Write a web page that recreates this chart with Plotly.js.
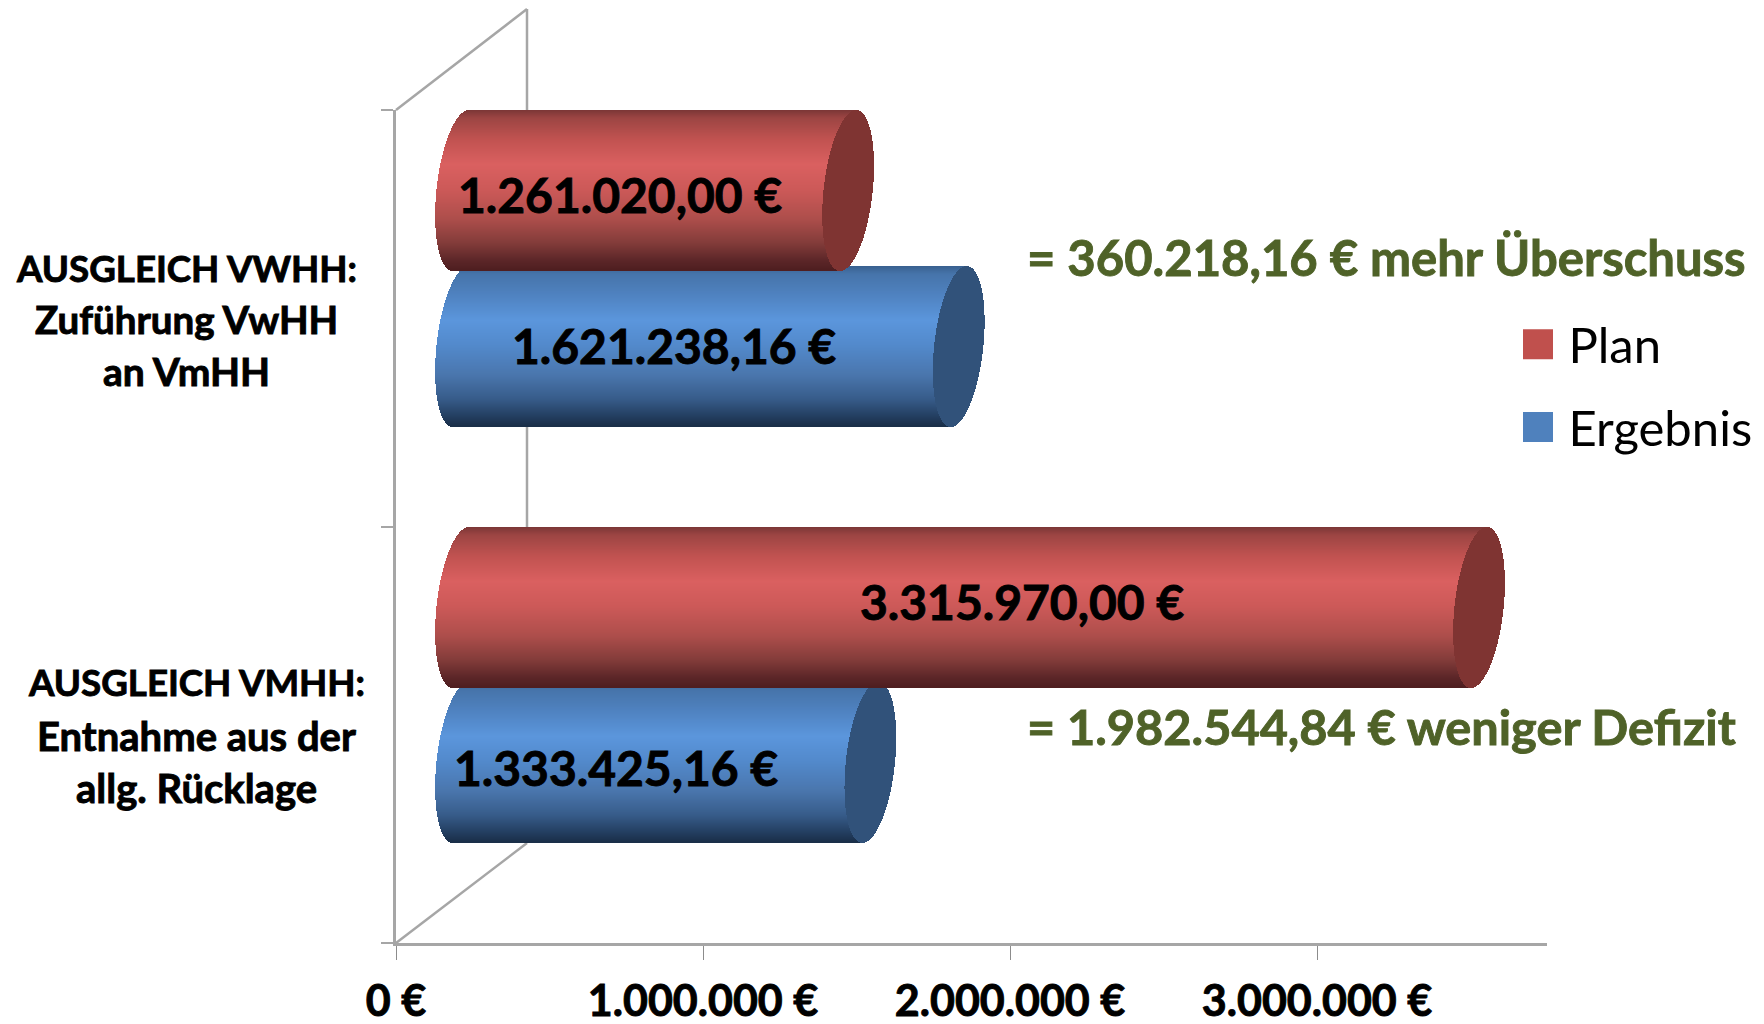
<!DOCTYPE html>
<html><head><meta charset="utf-8">
<script src="https://cdn.plot.ly/plotly-3.0.1.min.js"></script>
<style>html,body{margin:0;padding:0;background:#fff;overflow:hidden}#c{width:1764px;height:1024px}</style>
</head><body><div id="c"></div>
<script>
// ---- data ----
const seriesNames = ['Plan', 'Ergebnis'];
const planValues = [1261020.00, 3315970.00];
const ergebnisValues = [1621238.16, 1333425.16];
const planLabels = ['1.261.020,00 €', '3.315.970,00 €'];
const ergebnisLabels = ['1.621.238,16 €', '1.333.425,16 €'];
const categoryLines = [
  ['AUSGLEICH VWHH:', 'Zuführung VwHH', 'an VmHH'],
  ['AUSGLEICH VMHH:', 'Entnahme aus der', 'allg. Rücklage']
];
const xTickValues = [0, 1000000, 2000000, 3000000];
const xTickLabels = ['0 €', '1.000.000 €', '2.000.000 €', '3.000.000 €'];
const notes = ['= 360.218,16 € mehr Überschuss', '= 1.982.544,84 € weniger Defizit'];

// ---- plot geometry (page pixels) ----
const W = 1764, H = 1024, L = 396, R = 1547, T = 110, B = 943;
const pxPerUnit = 307 / 1e6, slotPx = (B - T) / 2;
const xRange = [0, (R - L) / pxPerUnit];
const dx = px => px / pxPerUnit;               // pixel length -> x units
const X = px => (px - L) / pxPerUnit;          // pixel -> x value
const Y = px => (px - T) / slotPx;             // pixel -> y value
const PX = px => (px - L) / (R - L);           // pixel -> paper
const PY = py => (B - py) / (B - T);

const BAR_H = 160, START = 461, RX = 24.6, SHEAR = 8;
const planTop = [T + 0.7, 527.3], ergebnisTop = [266.7, 683];

const planStops = [[0,'#7b3636'],[.05,'#9c4543'],[.18,'#c05250'],[.34,'#da6060'],[.5,'#cc5958'],[.68,'#ad4e4b'],[.83,'#833c3a'],[.94,'#5c2628'],[1,'#4e1e20']];
const ergStops  = [[0,'#38608f'],[.05,'#4674aa'],[.18,'#4f82c0'],[.34,'#5b96dc'],[.5,'#5289cb'],[.68,'#4a76ad'],[.83,'#375c8a'],[.94,'#233e60'],[1,'#1a2e48']];
const capColors = {Plan: '#7f3432', Ergebnis: '#31527a'};

function hex(c){return [1,3,5].map(i=>parseInt(c.substr(i,2),16));}
function shade(stops,t){
  for(let i=1;i<stops.length;i++){
    if(t<=stops[i][0]){
      const a=stops[i-1],b=stops[i],f=(t-a[0])/(b[0]-a[0]);
      const ca=hex(a[1]),cb=hex(b[1]);
      return 'rgb('+ca.map((v,k)=>Math.round(v+(cb[k]-v)*f)).join(',')+')';
    }
  }
  return stops[stops.length-1][1];
}
// Cylinders: each bar is split into one-pixel rows so the shading and the round ends are drawn by the bar trace itself
function cylinder(name, values, tops, stops){
  const body={type:'bar',orientation:'h',name,showlegend:false,hoverinfo:'skip',x:[],y:[],base:[],width:[],marker:{color:[],line:{width:0}}};
  const cap ={type:'bar',orientation:'h',name:name+' Deckel',showlegend:false,hoverinfo:'skip',x:[],y:[],base:[],width:[],marker:{color:capColors[name],line:{width:0}}};
  values.forEach((val,i)=>{
    for(let r=0;r<BAR_H;r++){
      const t=(r+.5)/BAR_H, v=1-2*t, c=Math.sqrt(1-v*v);
      const yc=Y(tops[i]+r+.5), h=1.35/slotPx;
      const left=X(START)+dx(SHEAR*v-RX*c);
      const len=val+dx(2*RX*c);
      body.x.push(len);body.y.push(yc);body.base.push(left);body.width.push(h);body.marker.color.push(shade(stops,t));
      cap.x.push(dx(2*RX*c));cap.y.push(yc);cap.base.push(X(START)+val+dx(SHEAR*v-RX*c));cap.width.push(h);
    }
  });
  return [body,cap];
}

const legendTraces = [
  {type:'bar',orientation:'h',name:seriesNames[0],legendgroup:'a',x:[null],y:[null],marker:{color:'#c0504d',line:{width:0}},hoverinfo:'skip'},
  {type:'bar',orientation:'h',name:seriesNames[1],legendgroup:'b',x:[null],y:[null],marker:{color:'#4f81bd',line:{width:0}},hoverinfo:'skip'}
];
const traces = legendTraces
  .concat(cylinder(seriesNames[1],ergebnisValues,ergebnisTop,ergStops))
  .concat(cylinder(seriesNames[0],planValues,planTop,planStops));

const FONT='Lato, Carlito, sans-serif';
const annotations=[];
function txt(text,px,py,size,color,bold,anchor){
  annotations.push({text:bold?'<b>'+text+'</b>':text,xref:'paper',yref:'paper',x:PX(px),y:PY(py),showarrow:false,
    xanchor:anchor||'center',yanchor:'middle',align:'center',font:{family:FONT,size,color},borderpad:0});
}
// value labels
const labelPos=[[planLabels[0],619.5,194],[ergebnisLabels[0],673.5,345],[planLabels[1],1022,601],[ergebnisLabels[1],616,767]];
labelPos.forEach(p=>txt(p[0],p[1],p[2],48,'#000',true));
// category labels
const catX=[186.5,196], catY=[[268,319,371],[682,736,788]], catSize=[[36.7,38.5,39],[36.7,40,40]];
categoryLines.forEach((lines,i)=>lines.forEach((s,j)=>txt(s,catX[i],catY[i][j],catSize[i][j],'#000',true)));
// remarks
txt(notes[0],1025.5,257,49,'#4f6228',true,'left');
txt(notes[1],1025.5,726,48.7,'#4f6228',true,'left');

const wall='#a6a6a6';
const seg=(x0,y0,x1,y1)=>({type:'line',layer:'below',xref:'paper',yref:'paper',x0:PX(x0),y0:PY(y0),x1:PX(x1),y1:PY(y1),line:{color:wall,width:2.5}});

const LEGEND_X = 1470, LEGEND_SHIFT = 37.5; // placed left enough not to squeeze the plot, then moved to its final place
const layout={
  width:W,height:H,paper_bgcolor:'#fff',plot_bgcolor:'#fff',barmode:'overlay',bargap:0,
  margin:{l:L,r:W-R,t:T,b:H-B,pad:0},autosize:false,
  xaxis:{range:xRange,tickmode:'array',tickvals:xTickValues,ticktext:xTickLabels.map(s=>'<b>'+s+'</b>'),
    showgrid:false,zeroline:false,showline:true,linecolor:wall,linewidth:3,ticks:'outside',ticklen:14,tickwidth:1,tickcolor:'#8c8c8c',
    tickfont:{family:FONT,size:43,color:'#000'},ticklabelstandoff:4,fixedrange:true},
  yaxis:{range:[2,0],tickmode:'array',tickvals:[0,1,2],ticktext:['','',''],showticklabels:false,
    showgrid:false,zeroline:false,showline:true,linecolor:wall,linewidth:3,ticks:'outside',ticklen:12,tickwidth:2,tickcolor:wall,fixedrange:true},
  legend:{x:PX(LEGEND_X),y:PY(306),xanchor:'left',yanchor:'top',bgcolor:'rgba(0,0,0,0)',borderwidth:0,
    font:{family:FONT,size:49,color:'#000'},itemwidth:51,tracegroupgap:16,traceorder:'grouped',itemclick:false,itemdoubleclick:false},
  shapes:[seg(527,9,527,843),seg(396,110,527,9),seg(396,943,527,843)],
  annotations
};
const gd=document.getElementById('c');
function polish(){
  gd.querySelectorAll('.legendpoints path').forEach(p=>{
    const tr=p.getAttribute('transform')||'';
    if(!/scale/.test(tr)) p.setAttribute('transform',tr+' scale(2.5)');
  });
  const lg=gd.querySelector('g.legend');
  if(lg){
    const m=/translate\(([-\d.]+)[ ,]+([-\d.]+)\)/.exec(lg.getAttribute('transform')||'');
    if(m) lg.setAttribute('transform','translate('+(parseFloat(m[1])+LEGEND_SHIFT)+','+m[2]+')');
  }
  // the reference's bold text is heavier than Lato Bold: thicken it with an outline in its own colour
  gd.querySelectorAll('.annotation-text, .xtick text').forEach(t=>{
    t.style.stroke=t.style.fill; t.style.strokeWidth='0.9px';
  });
}
Plotly.newPlot(gd,traces,layout,{displayModeBar:false,responsive:false}).then(polish);
</script>
</body></html>
